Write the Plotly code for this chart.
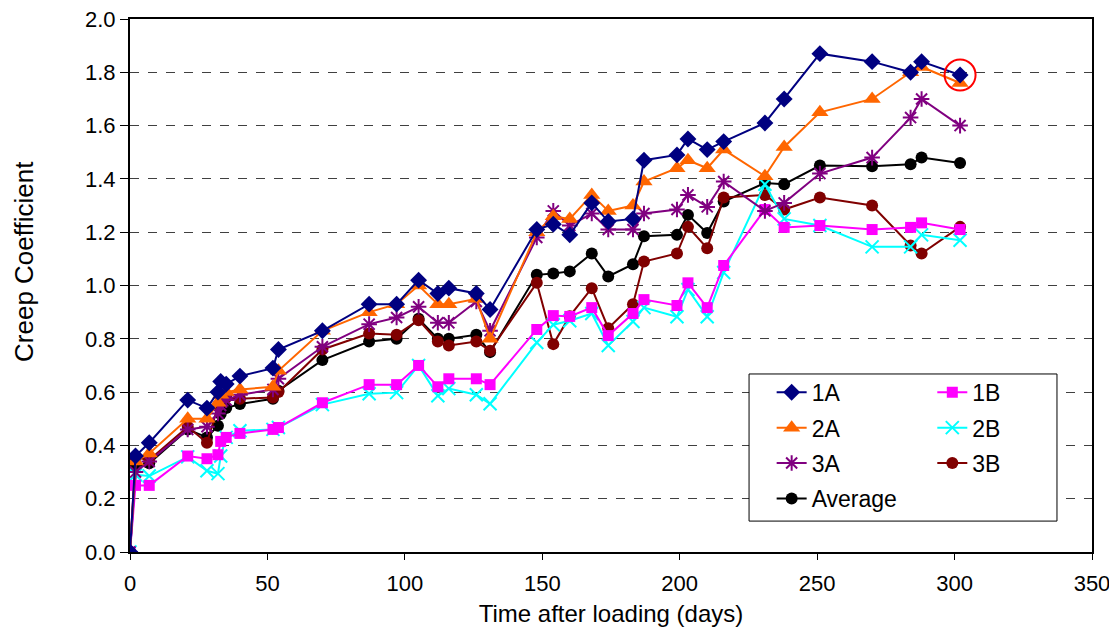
import plotly.graph_objects as go

days = [0, 2, 7, 21, 28, 32, 33, 35, 40, 52, 54, 70, 87, 97, 105, 112, 116, 126, 131,
        148, 154, 160, 168, 174, 183, 187, 199, 203, 210, 216, 231, 238, 251, 270, 284, 288, 302]

s1A = [0, 0.36, 0.41, 0.57, 0.54, 0.60, 0.64, 0.63, 0.66, 0.69, 0.76, 0.83, 0.93, 0.93, 1.02, 0.97, 0.99, 0.97, 0.91,
       1.21, 1.23, 1.19, 1.31, 1.24, 1.25, 1.47, 1.49, 1.55, 1.51, 1.54, 1.61, 1.70, 1.87, 1.84, 1.80, 1.84, 1.79]
s2A = [0, 0.34, 0.37, 0.50, 0.50, 0.56, 0.59, 0.60, 0.61, 0.62, 0.68, 0.83, 0.90, 0.93, 1.00, 0.93, 0.93, 0.95, 0.80,
       1.20, 1.26, 1.25, 1.34, 1.28, 1.30, 1.39, 1.44, 1.47, 1.44, 1.51, 1.41, 1.52, 1.65, 1.70, 1.80, 1.82, 1.76]
s3A = [0, 0.30, 0.34, 0.46, 0.47, 0.52, 0.55, 0.57, 0.59, 0.61, 0.65, 0.77, 0.855, 0.88, 0.92, 0.86, 0.86, 0.94, 0.83,
       1.18, 1.28, 1.225, 1.27, 1.21, 1.21, 1.27, 1.285, 1.34, 1.295, 1.39, 1.28, 1.31, 1.42, 1.48, 1.63, 1.70, 1.60]
s1B = [0, 0.25, 0.25, 0.36, 0.35, 0.365, 0.415, 0.43, 0.445, 0.46, 0.467, 0.56, 0.628, 0.628, 0.70, 0.62, 0.65, 0.65, 0.628,
       0.835, 0.887, 0.884, 0.917, 0.812, 0.895, 0.947, 0.925, 1.01, 0.917, 1.075, 1.285, 1.218, 1.225, 1.21, 1.218, 1.235, 1.21]
s2B = [0, 0.29, 0.285, 0.357, 0.305, 0.294, 0.36, 0.43, 0.455, 0.46, 0.467, 0.553, 0.594, 0.598, 0.70, 0.586, 0.613, 0.59, 0.556,
       0.786, 0.853, 0.868, 0.895, 0.775, 0.865, 0.917, 0.883, 0.985, 0.883, 1.049, 1.38, 1.25, 1.225, 1.145, 1.145, 1.19, 1.17]
s3B = [0, 0.355, 0.345, 0.47, 0.41, 0.55, 0.58, 0.58, 0.575, 0.58, 0.60, 0.76, 0.82, 0.815, 0.87, 0.79, 0.775, 0.79, 0.755,
       1.01, 0.78, 0.885, 0.99, 0.84, 0.93, 1.09, 1.12, 1.22, 1.14, 1.33, 1.34, 1.285, 1.33, 1.30, 1.15, 1.12, 1.22]
sAvg = [0, 0.32, 0.333, 0.46, 0.43, 0.474, 0.518, 0.54, 0.555, 0.575, 0.605, 0.72, 0.79, 0.80, 0.875, 0.80, 0.80, 0.815, 0.75,
        1.04, 1.045, 1.053, 1.12, 1.034, 1.08, 1.185, 1.19, 1.265, 1.197, 1.315, 1.385, 1.38, 1.45, 1.447, 1.455, 1.48, 1.46]

FONT = "Arial, 'Liberation Sans', sans-serif"

series = {
    # name: values, color, symbol, size, legend, rank
    "1A": (s1A, "#000080", "diamond", 13, "legend", 1),
    "2A": (s2A, "#FF6600", "triangle-up", 15, "legend", 2),
    "3A": (s3A, "#800080", "asterisk-open", 13, "legend", 3),
    "Average": (sAvg, "#000000", "circle", 12, "legend", 4),
    "1B": (s1B, "#FF00FF", "square", 11, "legend2", 1),
    "2B": (s2B, "#00FFFF", "x-thin-open", 13, "legend2", 2),
    "3B": (s3B, "#800000", "circle", 12, "legend2", 3),
}

draw_order = ["Average", "3B", "2B", "1B", "3A", "2A", "1A"]

fig = go.Figure()
for nm in draw_order:
    vals, col, sym, sz, leg, rk = series[nm]
    mline = dict(color=col, width=2) if "open" in sym else dict(width=0)
    fig.add_trace(go.Scatter(
        x=days, y=vals, name=nm, mode="lines+markers",
        line=dict(color=col, width=2),
        marker=dict(symbol=sym, size=sz, color=col, line=mline),
        legend=leg, legendrank=rk, legendgroup=nm,
    ))

# highlight circle around the final 1A point
fig.add_trace(go.Scatter(
    x=[days[-1]], y=[s1A[-1]], mode="markers", showlegend=False, hoverinfo="skip",
    marker=dict(symbol="circle-open", size=31, color="#FF0000", line=dict(color="#FF0000", width=2)),
))

fig.update_layout(
    width=1101, height=622,
    margin=dict(l=122, r=17, t=11, b=78),
    paper_bgcolor="white", plot_bgcolor="white",
    font=dict(family=FONT, size=22, color="black"),
    legend=dict(x=0.667, y=0.340, xanchor="left", yanchor="top",
                bgcolor="rgba(0,0,0,0)", borderwidth=0,
                font=dict(size=23, family=FONT), itemwidth=30, tracegroupgap=2.5),
    legend2=dict(x=0.834, y=0.340, xanchor="left", yanchor="top",
                 bgcolor="rgba(0,0,0,0)", borderwidth=0,
                 font=dict(size=23, family=FONT), itemwidth=30, tracegroupgap=2.5),
    shapes=[dict(type="rect", xref="paper", yref="paper",
                 x0=0.6435, x1=0.9636, y0=0.058, y1=0.334,
                 fillcolor="white", line=dict(color="black", width=1), layer="above")],
    annotations=[dict(text="Creep Coefficient", textangle=-90, showarrow=False,
                      xref="paper", yref="paper", x=-0.1102, y=0.546,
                      xanchor="center", yanchor="middle",
                      font=dict(size=26, family=FONT, color="black"))],
)

fig.update_xaxes(
    range=[0, 350], dtick=50, tick0=0, automargin=False,
    showline=True, linecolor="black", linewidth=2, mirror=True,
    ticks="outside", ticklen=6, tickcolor="black", tickwidth=1,
    showgrid=False, zeroline=False, ticklabelstandoff=5, ticklabeloverflow="allow",
    tickfont=dict(size=22, family=FONT),
    title=dict(text="Time after loading (days)", font=dict(size=24, family=FONT), standoff=10),
)
fig.update_yaxes(
    range=[0, 2.0], dtick=0.2, tick0=0, tickformat=".1f", automargin=False,
    showline=True, linecolor="black", linewidth=2, mirror=True,
    ticks="outside", ticklen=8, tickcolor="black", tickwidth=1,
    showgrid=True, gridcolor="#404040", gridwidth=1, griddash="dash",
    zeroline=False, ticklabeloverflow="allow",
    tickfont=dict(size=22, family=FONT),
)

fig.write_html("out.html")
